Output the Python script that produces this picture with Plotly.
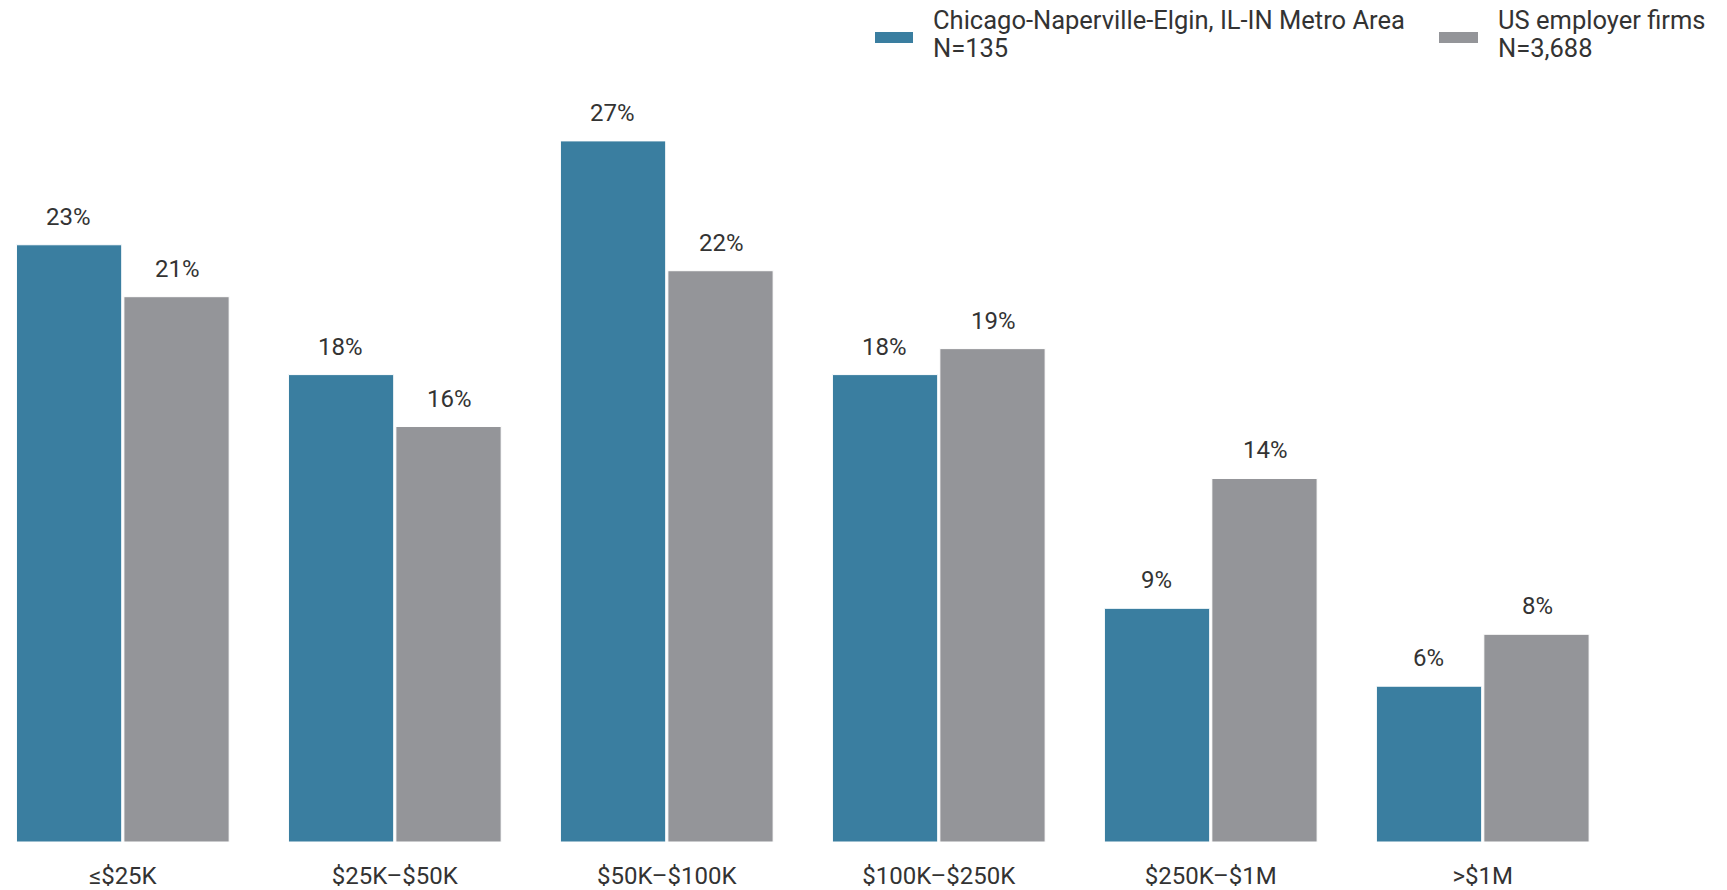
import plotly.graph_objects as go

categories = ["≤$25K", "$25K–$50K", "$50K–$100K", "$100K–$250K", "$250K–$1M", ">$1M"]
chicago = [23, 18, 27, 18, 9, 6]
us_firms = [21, 16, 22, 19, 14, 8]
series_names = ["Chicago-Naperville-Elgin, IL-IN Metro Area", "US employer firms"]
series_n = ["N=135", "N=3,688"]

BLUE = "#3a7ea0"
GRAY = "#949599"
TEXT = "#333333"
FONT = "Roboto"

W, H = 1727, 890
M_T, M_B = 63, 46
PLOT_H = H - M_T - M_B

def py(yp):
    return (H - M_B - yp) / PLOT_H

fig = go.Figure()
fig.add_trace(go.Bar(x=categories, y=chicago, name=series_names[0],
                     marker=dict(color=BLUE, line=dict(color="white", width=1))))
fig.add_trace(go.Bar(x=categories, y=us_firms, name=series_names[1],
                     marker=dict(color=GRAY, line=dict(color="white", width=1))))

annotations = []
for i, c in enumerate(categories):
    for vals, shift in ((chicago, -54.5), (us_firms, 54.5)):
        annotations.append(dict(x=c, y=vals[i], xref="x", yref="y", text=f"{vals[i]}%",
                                showarrow=False, xshift=shift, yshift=28, yanchor="middle",
                                font=dict(family=FONT, size=24, color=TEXT)))

# custom legend
shapes = []
legend_items = [(875, 913, 931, BLUE), (1439, 1478, 1496, GRAY)]
for (x0, x1, tx, col), name, n in zip(legend_items, series_names, series_n):
    shapes.append(dict(type="rect", xref="paper", yref="paper", x0=x0 / W, x1=x1 / W,
                       y0=py(43), y1=py(32), fillcolor=col, line=dict(width=0)))
    annotations.append(dict(x=tx / W, y=py(19.5), xref="paper", yref="paper", text=name,
                            showarrow=False, xanchor="left", yanchor="middle",
                            font=dict(family=FONT, size=25.5, color=TEXT)))
    annotations.append(dict(x=tx / W, y=py(47.5), xref="paper", yref="paper", text=n,
                            showarrow=False, xanchor="left", yanchor="middle",
                            font=dict(family=FONT, size=25.5, color=TEXT)))

fig.update_layout(
    width=W, height=H,
    margin=dict(l=0, r=0, t=M_T, b=M_B, pad=0),
    paper_bgcolor="white", plot_bgcolor="white",
    barmode="group", bargap=0.21, bargroupgap=0.02,
    showlegend=False,
    annotations=annotations, shapes=shapes,
    font=dict(family=FONT, color=TEXT),
    xaxis=dict(range=[-0.4515, 5.898], showgrid=False, showline=False, zeroline=False,
               ticks="", tickfont=dict(family=FONT, size=24, color=TEXT), ticklabelstandoff=17),
    yaxis=dict(range=[0, 30], visible=False, showgrid=False, zeroline=False),
)

fig.write_html("out.html", config={"displayModeBar": False},
               post_script="document.body.style.margin='0';")
